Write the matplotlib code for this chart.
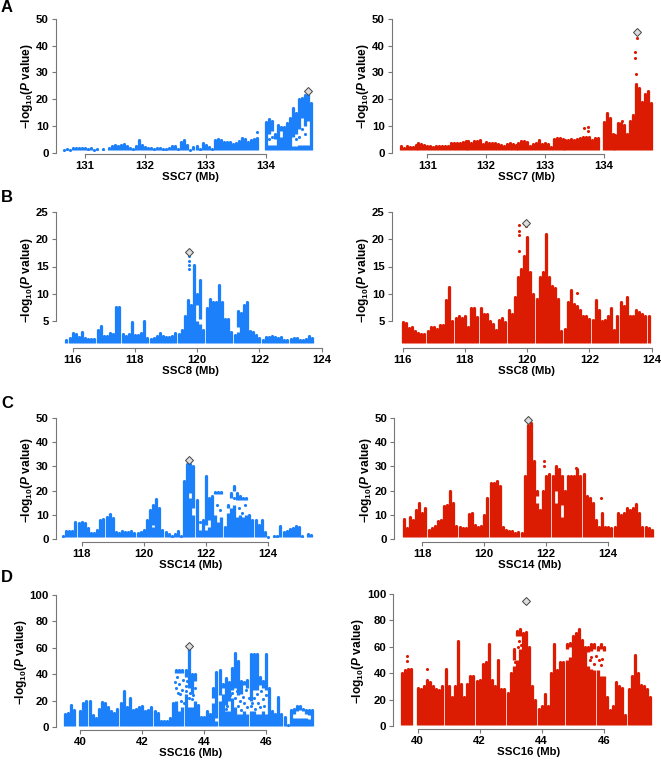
import numpy as np
import matplotlib
matplotlib.use('Agg')
import matplotlib.pyplot as plt

plt.rcParams['font.family'] = ['Liberation Sans', 'DejaVu Sans']
plt.rcParams['font.weight'] = 'bold'
plt.rcParams['mathtext.fontset'] = 'custom'
plt.rcParams['mathtext.rm'] = 'Liberation Sans:bold'
plt.rcParams['mathtext.bf'] = 'Liberation Sans:bold'
plt.rcParams['mathtext.it'] = 'Liberation Sans:italic:bold'

BLUE = '#1b80fa'
RED = '#dc1c02'

# column tops, 0 = no points in that column
pos_a = [130.55, 130.6, 130.65, 130.7, 130.75, 130.8, 130.85, 130.9, 130.95, 131.0,
         131.05, 131.1, 131.15, 131.2, 131.25, 131.3, 131.35, 131.4, 131.45, 131.5,
         131.55, 131.6, 131.65, 131.7, 131.75, 131.8, 131.85, 131.9, 131.95, 132.0,
         132.05, 132.1, 132.15, 132.2, 132.25, 132.3, 132.35, 132.4, 132.45, 132.5,
         132.55, 132.6, 132.65, 132.7, 132.75, 132.8, 132.85, 132.9, 132.95, 133.0,
         133.05, 133.1, 133.15, 133.2, 133.25, 133.3, 133.35, 133.4, 133.45, 133.5,
         133.55, 133.6, 133.65, 133.7, 133.75, 133.8, 133.85, 133.9, 133.95, 134.0,
         134.05, 134.1, 134.15, 134.2, 134.25, 134.3, 134.35, 134.4, 134.45, 134.5,
         134.55, 134.6, 134.65, 134.7, 134.75, 134.8]
blue_a = [0, 0, 1.1, 1.2, 1.0, 1.8, 1.7, 1.8, 1.7, 1.7,
          1.5, 1.6, 1.0, 1.2, 0, 1.3, 0, 1.6, 2.4, 3.0,
          2.6, 3.0, 3.2, 2.6, 1.8, 1.5, 2.5, 4.6, 3.0, 2.2,
          1.7, 1.6, 1.5, 1.6, 1.7, 1.2, 1.4, 1.8, 2.4, 2.6,
          1.5, 4.0, 4.8, 3.0, 1.0, 2.2, 2.5, 1.2, 3.5, 3.0,
          2.0, 1.2, 4.8, 5.0, 4.6, 4.0, 3.9, 4.0, 3.3, 3.8,
          4.5, 5.6, 5.0, 4.0, 4.8, 5.0, 5.5, 0, 0, 11.5,
          12.4, 12.0, 7.0, 10.5, 9.5, 9.5, 11.0, 13.0, 16.5, 15.0,
          20.0, 20.5, 21.5, 22.5, 18.5, 0]
red_a = [2.6, 1.8, 2.5, 2.3, 2.2, 3.0, 3.5, 3.2, 2.8, 2.5,
         2.4, 2.2, 2.5, 2.6, 2.5, 2.5, 2.6, 3.5, 3.8, 3.8,
         3.8, 4.0, 4.5, 4.2, 3.6, 4.4, 4.5, 4.8, 3.2, 4.0,
         3.5, 3.6, 3.5, 3.2, 2.8, 2.6, 3.4, 3.5, 3.3, 2.8,
         3.5, 4.5, 4.5, 4.0, 2.5, 3.2, 3.6, 4.8, 3.2, 3.6,
         3.2, 2.2, 5.2, 5.5, 5.3, 5.0, 4.7, 4.6, 5.0, 4.8,
         5.0, 5.6, 6.0, 5.8, 6.0, 4.8, 5.5, 5.5, 0, 11.5,
         15.0, 13.0, 7.0, 6.5, 11.0, 11.0, 10.5, 7.0, 12.0, 14.0,
         25.5, 24.0, 19.0, 22.0, 23.0, 18.5]

pos_b = [115.8, 115.9, 116.0, 116.1, 116.2, 116.3, 116.4, 116.5, 116.6, 116.7,
         116.8, 116.9, 117.0, 117.1, 117.2, 117.3, 117.4, 117.5, 117.6, 117.7,
         117.8, 117.9, 118.0, 118.1, 118.2, 118.3, 118.4, 118.5, 118.6, 118.7,
         118.8, 118.9, 119.0, 119.1, 119.2, 119.3, 119.4, 119.5, 119.6, 119.7,
         119.8, 119.9, 120.0, 120.1, 120.2, 120.3, 120.4, 120.5, 120.6, 120.7,
         120.8, 120.9, 121.0, 121.1, 121.2, 121.3, 121.4, 121.5, 121.6, 121.7,
         121.8, 121.9, 122.0, 122.1, 122.2, 122.3, 122.4, 122.5, 122.6, 122.7,
         122.8, 122.9, 123.0, 123.1, 123.2, 123.3, 123.4, 123.5, 123.6, 123.7,
         123.8, 123.9]
blue_b = [1.5, 2.0, 2.8, 2.6, 2.2, 3.0, 1.9, 1.8, 1.7, 1.8,
          3.4, 4.2, 2.3, 2.3, 2.8, 2.6, 7.7, 7.6, 2.6, 2.4,
          2.7, 4.8, 2.5, 2.5, 2.8, 5.0, 2.0, 1.8, 2.0, 2.4,
          2.8, 2.4, 2.2, 2.2, 2.4, 2.9, 2.6, 3.5, 6.0, 8.8,
          8.0, 15.3, 10.0, 12.5, 3.5, 7.5, 9.0, 8.5, 8.5, 11.6,
          8.5, 5.5, 5.5, 3.0, 2.5, 6.8, 6.5, 8.0, 8.5, 3.3,
          3.0, 2.5, 2.0, 1.6, 2.1, 2.2, 2.3, 2.1, 1.9, 2.1,
          1.5, 1.5, 1.8, 2.0, 1.9, 1.6, 1.5, 1.8, 2.4, 1.9,
          0, 0]
red_b = [0, 0, 4.8, 4.6, 3.7, 4.0, 3.3, 2.8, 2.6, 2.6,
         3.3, 3.9, 4.0, 3.6, 4.4, 4.4, 8.8, 11.2, 5.0, 5.6,
         6.0, 5.6, 6.0, 4.0, 7.5, 7.5, 5.8, 7.5, 6.4, 6.3,
         5.0, 4.5, 3.4, 5.3, 5.6, 4.8, 7.0, 6.4, 9.5, 13.0,
         14.5, 17.0, 20.4, 14.0, 10.0, 9.0, 13.0, 14.0, 21.0, 13.0,
         11.5, 11.0, 9.0, 3.2, 3.6, 8.5, 10.8, 8.2, 7.8, 7.0,
         6.0, 6.0, 5.5, 5.2, 8.8, 7.0, 5.0, 5.3, 6.0, 7.5,
         3.5, 6.0, 8.5, 7.8, 9.4, 6.0, 6.0, 7.0, 6.7, 6.4,
         6.0, 6.0]

pos_c = [117.4, 117.5, 117.6, 117.7, 117.8, 117.9, 118.0, 118.1, 118.2, 118.3,
         118.4, 118.5, 118.6, 118.7, 118.8, 118.9, 119.0, 119.1, 119.2, 119.3,
         119.4, 119.5, 119.6, 119.7, 119.8, 119.9, 120.0, 120.1, 120.2, 120.3,
         120.4, 120.5, 120.6, 120.7, 120.8, 120.9, 121.0, 121.1, 121.2, 121.3,
         121.4, 121.5, 121.6, 121.7, 121.8, 121.9, 122.0, 122.1, 122.2, 122.3,
         122.4, 122.5, 122.6, 122.7, 122.8, 122.9, 123.0, 123.1, 123.2, 123.3,
         123.4, 123.5, 123.6, 123.7, 123.8, 123.9, 124.0, 124.1, 124.2, 124.3,
         124.4, 124.5, 124.6, 124.7, 124.8, 124.9, 125.0, 125.1, 125.2, 125.3,
         125.4]
blue_c = [1.2, 3.5, 3.5, 3.5, 7.0, 6.8, 7.0, 6.6, 4.5, 2.5,
          2.5, 3.8, 8.0, 8.5, 9.0, 10.2, 8.7, 3.0, 2.5, 3.5,
          3.0, 3.2, 3.5, 2.5, 2.5, 3.0, 4.0, 8.0, 12.0, 14.0,
          16.5, 13.0, 4.0, 3.0, 2.2, 1.4, 2.0, 3.5, 1.5, 24.0,
          31.0, 31.0, 30.0, 16.0, 7.0, 8.0, 26.0, 17.0, 18.0, 19.5,
          19.5, 19.5, 5.0, 14.0, 19.0, 22.0, 19.0, 18.0, 17.0, 17.0,
          10.0, 8.0, 8.0, 6.0, 8.0, 3.0, 1.0, 0, 1.2, 1.5,
          5.5, 2.8, 3.5, 4.2, 4.8, 5.3, 5.0, 1.5, 0, 2.0,
          1.8]
red_c = [8.3, 4.5, 9.0, 8.0, 12.0, 15.0, 11.0, 13.0, 4.0, 4.5,
         5.5, 7.5, 8.0, 13.5, 14.0, 20.0, 15.0, 5.5, 5.0, 4.5,
         4.5, 10.5, 11.0, 6.0, 5.0, 5.5, 10.0, 17.0, 23.0, 23.0,
         24.0, 22.0, 5.0, 4.0, 3.5, 3.5, 2.5, 3.0, 2.5, 26.0,
         47.0, 48.0, 32.0, 20.0, 12.0, 20.0, 26.0, 27.0, 26.0, 30.0,
         29.0, 26.0, 20.0, 26.0, 26.0, 26.0, 29.0, 26.0, 27.0, 18.0,
         17.0, 15.0, 8.0, 5.0, 11.0, 5.0, 5.0, 4.5, 5.0, 11.0,
         10.0, 11.0, 13.0, 12.0, 13.0, 14.5, 11.0, 5.0, 5.0, 4.5,
         4.0]

pos_d = [39.5, 39.6, 39.7, 39.8, 39.9, 40.0, 40.1, 40.2, 40.3, 40.4,
         40.5, 40.6, 40.7, 40.8, 40.9, 41.0, 41.1, 41.2, 41.3, 41.4,
         41.5, 41.6, 41.7, 41.8, 41.9, 42.0, 42.1, 42.2, 42.3, 42.4,
         42.5, 42.6, 42.7, 42.8, 42.9, 43.0, 43.1, 43.2, 43.3, 43.4,
         43.5, 43.6, 43.7, 43.8, 43.9, 44.0, 44.1, 44.2, 44.3, 44.4,
         44.5, 44.6, 44.7, 44.8, 44.9, 45.0, 45.1, 45.2, 45.3, 45.4,
         45.5, 45.6, 45.7, 45.8, 45.9, 46.0, 46.1, 46.2, 46.3, 46.4,
         46.5, 46.6, 46.7, 46.8, 46.9, 47.0, 47.1, 47.2, 47.3, 47.4,
         47.5]
blue_d = [10, 11, 16.5, 13, 0, 12, 18, 19.5, 19.5, 9,
          7, 14, 19, 18.5, 15, 12, 11, 14, 18, 27,
          15, 22, 13, 14, 15, 16, 12, 13, 15, 12,
          11, 4.5, 5, 5, 7, 18, 43, 43, 43, 43,
          60, 40, 40, 17, 8, 8, 12, 10, 30, 42,
          43, 33, 37, 34, 45, 56, 50, 35, 34, 36,
          55, 55, 55, 38, 35, 55, 30, 12, 10, 23,
          10, 8, 2, 13, 14, 16, 16, 14, 13, 13,
          13]
red_d = [40, 42, 43, 43, 0, 29, 28, 30, 35, 33,
         30, 28, 27, 30, 43, 30, 22, 30, 64, 32,
         22, 32, 38, 38, 34, 35, 47, 48, 62, 35,
         30, 50, 28, 28, 25, 40, 58, 72, 73, 70,
         71, 60, 30, 20, 13, 15, 24, 15, 40, 62,
         42, 48, 48, 62, 63, 68, 70, 73, 65, 60,
         60, 62, 62, 60, 62, 60, 22, 12, 15, 33,
         30, 29, 8, 28, 38, 54, 40, 31, 30, 28,
         22]

# white holes inside the columns: column, from, to
gap_x_a_blue = [134.05, 134.1, 134.15, 134.25, 134.45, 134.5, 134.55, 134.6, 134.65, 134.7]
gap_lo_a_blue = [3, 3, 3, 6, 2.5, 2.5, 3, 3, 3, 3]
gap_hi_a_blue = [7, 8, 5, 8, 6, 7, 9, 13, 10, 12]
gap_x_b_blue = [120.0, 120.1, 121.3]
gap_lo_b_blue = [5, 4.5, 3]
gap_hi_b_blue = [8, 5.5, 4]
gap_x_c_blue = [120.3, 121.5, 121.6, 121.8, 122.0, 122.1, 122.3, 122.4, 122.5,
                122.7, 122.8, 122.9, 123.0, 123.1, 123.2, 123.3]
gap_lo_c_blue = [5, 17, 10, 4, 4, 5, 10, 7, 9, 11, 13, 14, 9, 10, 9, 10]
gap_hi_c_blue = [6, 19, 13, 7, 6, 8, 18.5, 18.5, 18.5, 13, 17, 20, 16, 16, 16, 16]
gap_x_d_blue = [43.1, 43.2, 43.3, 43.4, 43.5, 43.6, 43.7, 44.3, 44.4, 44.5, 44.6, 44.7, 44.8, 44.9,
                45.0, 45.1, 45.2, 45.3, 45.4, 45.5, 45.6, 45.7, 45.8, 45.9, 46.0,
                46.9, 47.0, 47.1, 47.2, 47.3, 47.4]
gap_lo_d_blue = [20, 12, 15, 25, 15, 15, 20, 18, 5, 20, 25, 12, 12, 22,
                 15, 10, 10, 12, 10, 12, 12, 10, 10, 12, 10,
                 7, 7, 7, 7, 7, 6]
gap_hi_d_blue = [41, 41, 41, 38, 30, 25, 35, 22, 7, 24, 30, 17, 20, 28,
                 30, 24, 25, 32, 30, 20, 28, 28, 32, 30, 28,
                 10, 12, 13, 12, 10, 9]
gap_x_c_red = [121.7, 122.3, 122.5]
gap_lo_c_red = [15, 15, 9]
gap_hi_c_red = [18, 20, 14]
gap_x_d_red = [43.1, 43.2, 43.3, 44.8, 44.9, 45.5, 45.6, 45.7, 45.8, 45.9, 46.0]
gap_lo_d_red = [45, 50, 58, 50, 52, 45, 43, 42, 42, 38, 38]
gap_hi_d_red = [50, 68, 68, 58, 60, 56, 57, 58, 57, 58, 57]

# isolated points above the columns and inside the holes
extra_x_a_red = [134.54, 134.54, 134.56, 134.55, 133.66, 133.74, 133.74, 134.31]
extra_y_a_red = [37.6, 35.5, 42.8, 29.5, 9.3, 9.5, 8.0, 11.8]
extra_x_a_blue = [133.85, 134.7, 134.6, 134.5, 134.55, 134.65, 134.1, 134.05]
extra_y_a_blue = [7.8, 22.0, 9.0, 5.0, 6.0, 7.0, 6.0, 5.0]
extra_x_b_blue = [119.73, 119.73, 119.73, 119.73]
extra_y_b_blue = [16.9, 16.0, 15.2, 14.5]
extra_x_b_red = [119.73, 119.73, 119.73, 119.73, 119.95, 121.6]
extra_y_b_red = [22.5, 21.5, 20.7, 17.8, 22.3, 10.2]
extra_x_c_blue = [122.35, 122.45, 123.05, 123.15, 123.25, 122.9]
extra_y_c_blue = [14.0, 12.0, 13.0, 11.0, 14.0, 17.0]
extra_x_c_red = [121.93, 121.93, 122.95, 123.75]
extra_y_c_red = [32.0, 30.0, 29.2, 17.0]
extra_x_d_blue = [43.05, 43.1, 43.12, 43.15, 43.2, 43.22, 43.25, 43.3, 43.32, 43.35, 43.4, 43.42, 43.45, 43.5, 43.55,
                  43.6, 43.65, 43.7, 45.0, 45.05, 45.1, 45.15, 45.2, 45.25, 45.3, 45.35, 45.4, 45.45, 45.5, 45.55,
                  45.6, 45.65, 45.7, 45.75, 45.8, 45.85, 45.9, 45.95, 46.0, 44.85, 44.9, 44.7, 44.75]
extra_y_d_blue = [34, 30, 38, 26, 33, 25, 20, 28, 36, 18, 31, 27, 35, 22, 26,
                  21, 24, 30, 22, 27, 16, 20, 13, 23, 18, 28, 15, 22, 16, 18,
                  22, 14, 25, 18, 15, 27, 21, 16, 24, 24, 26, 14, 16]
extra_x_d_red = [39.65, 39.65, 40.3, 41.3, 41.3, 43.15, 43.22, 43.28, 43.32, 45.55, 45.6, 45.7, 45.75, 45.85, 45.9, 45.95]
extra_y_d_red = [53, 49, 43, 58, 53, 48, 60, 64, 61, 50, 52, 47, 53, 50, 46, 51]

# lead SNP (diamond)
lead_x = [134.7, 134.56, 119.73, 119.95, 121.45, 121.42, 43.5, 43.5]
lead_y = [23, 45, 17.7, 23, 32.5, 49.2, 61.5, 94.5]

xlabels = ['SSC7 (Mb)', 'SSC8 (Mb)', 'SSC14 (Mb)', 'SSC16 (Mb)']
xticks_all = [[131, 132, 133, 134], [116, 118, 120, 122, 124],
              [118, 120, 122, 124], [40, 42, 44, 46]]
yticks_all = [[0, 10, 20, 30, 40, 50], [5, 10, 15, 20, 25],
              [0, 10, 20, 30, 40, 50], [0, 20, 40, 60, 80, 100]]
letters = ['A', 'B', 'C', 'D']
letter_y = [7, 198, 404, 577]

# pixel calibration: spine x, x tick a px, x tick b px, y tick a px, y tick b px, x axis line y
geom = [
    [(55.7, 84.7, 266.0, 152.7, 18.7, 154.3), (391.7, 427.3, 603.7, 152.7, 18.7, 154.3)],
    [(55.7, 72.7, 321.7, 321.3, 211.7, 348.3), (391.7, 402.7, 651.7, 321.3, 211.7, 348.3)],
    [(55.7, 81.7, 268.0, 539.3, 417.7, 542.3), (394.3, 422.3, 608.3, 539.3, 417.7, 542.3)],
    [(55.7, 80.3, 266.0, 727.3, 594.7, 730.0), (393.3, 417.7, 603.7, 726.0, 593.7, 729.3)],
]
series = [
    [(pos_a, blue_a, 1.0, extra_x_a_blue, extra_y_a_blue, gap_x_a_blue, gap_lo_a_blue, gap_hi_a_blue),
     (pos_a, red_a, 1.0, extra_x_a_red, extra_y_a_red, [], [], [])],
    [(pos_b, blue_b, 1.0, extra_x_b_blue, extra_y_b_blue, gap_x_b_blue, gap_lo_b_blue, gap_hi_b_blue),
     (pos_b, red_b, 1.0, extra_x_b_red, extra_y_b_red, [], [], [])],
    [(pos_c, blue_c, 0.9, extra_x_c_blue, extra_y_c_blue, gap_x_c_blue, gap_lo_c_blue, gap_hi_c_blue),
     (pos_c, red_c, 0.9, extra_x_c_red, extra_y_c_red, gap_x_c_red, gap_lo_c_red, gap_hi_c_red)],
    [(pos_d, blue_d, 0.7, extra_x_d_blue, extra_y_d_blue, gap_x_d_blue, gap_lo_d_blue, gap_hi_d_blue),
     (pos_d, red_d, 0.5, extra_x_d_red, extra_y_d_red, gap_x_d_red, gap_lo_d_red, gap_hi_d_red)],
]

W, H = 661, 760
fig = plt.figure(figsize=(W / 100, H / 100), dpi=100)

for row in range(4):
    fig.text(1 / W, 1 - letter_y[row] / H, letters[row], fontsize=12, fontweight='bold',
             va='center', ha='left')
    for col in range(2):
        spine_x, xa_px, xb_px, ya_px, yb_px, axis_y = geom[row][col]
        xa, xb = xticks_all[row][0], xticks_all[row][-1]
        ya, yb = yticks_all[row][0], yticks_all[row][-1]
        right_px = spine_x + 270
        top_px = yb_px

        ax = fig.add_axes([spine_x / W, 1 - axis_y / H, (right_px - spine_x) / W, (axis_y - top_px) / H])
        ax.set_xlim(xa + (spine_x - xa_px) * (xb - xa) / (xb_px - xa_px),
                    xa + (right_px - xa_px) * (xb - xa) / (xb_px - xa_px))
        ax.set_ylim(ya + (axis_y - ya_px) * (yb - ya) / (yb_px - ya_px), yb)

        pos, top, floor, ex, ey, gx, glo, ghi = series[row][col]
        color = RED if col else BLUE
        pos = np.array(pos)
        top = np.array(top, dtype=float)
        keep = top > 0

        # lower part of a column stops at the hole, upper part starts above it
        lower = top.copy()
        for x, lo in zip(gx, glo):
            lower[np.argmin(np.abs(pos - x))] = lo
        ax.vlines(pos[keep], floor, lower[keep], color=color, lw=2.35, clip_on=False)
        for x, hi in zip(gx, ghi):
            i = np.argmin(np.abs(pos - x))
            ax.vlines(pos[i], hi, top[i], color=color, lw=2.35, clip_on=False)
        ax.scatter(pos[keep], top[keep], s=5, color=color, linewidths=0, clip_on=False)
        ax.scatter(ex, ey, s=5, color=color, linewidths=0, clip_on=False)
        ax.plot(lead_x[row * 2 + col], lead_y[row * 2 + col], 'D', ms=4.4, mfc='#dddddd',
                mec='#444444', mew=0.7, clip_on=False, zorder=5)

        for s in ['top', 'right']:
            ax.spines[s].set_visible(False)
        ax.spines['left'].set_bounds(ya, yb)
        ax.spines['bottom'].set_bounds(xa, xb)
        ax.spines['left'].set_color('#777777')
        ax.spines['bottom'].set_color('#777777')
        ax.spines['left'].set_linewidth(0.8)
        ax.spines['bottom'].set_linewidth(0.8)
        ax.set_xticks(xticks_all[row])
        ax.set_yticks(yticks_all[row])
        ax.tick_params(length=2.6, width=0.8, color='#777777', labelsize=8.2, pad=2.4)
        ax.set_xlabel(xlabels[row], fontsize=8.2, fontweight='bold', labelpad=0.8)
        ax.set_ylabel(r'$-\mathrm{log}_{10}(\mathit{P}\ \mathrm{value})$', fontsize=8.6, labelpad=0.5)
        ax.patch.set_alpha(0)

fig.savefig('out.png', dpi=100)
